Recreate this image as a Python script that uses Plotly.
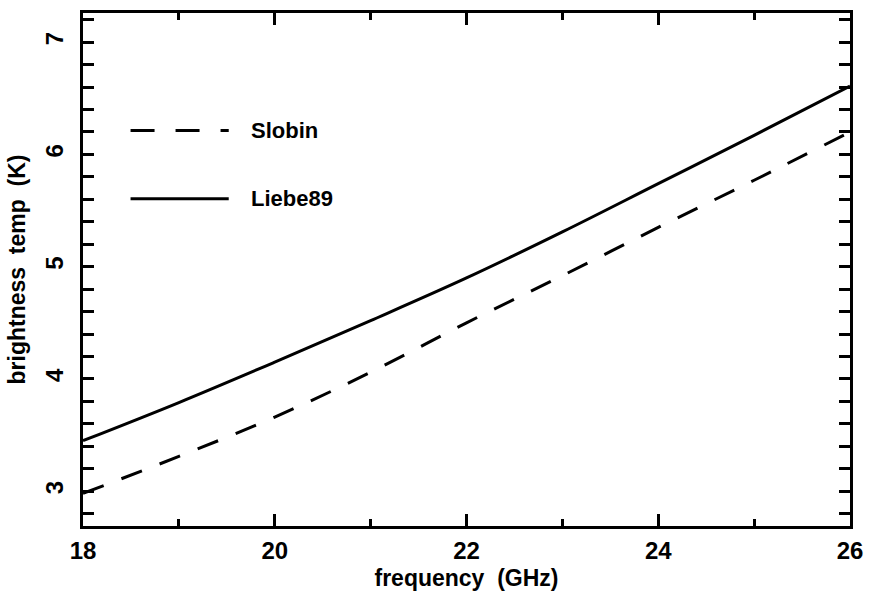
import plotly.graph_objects as go

# Sky brightness temperature vs. frequency for two absorption models
freq_ghz = [18, 19, 20, 21, 22, 23, 24, 25, 26]
slobin_k = [2.98, 3.31, 3.66, 4.06, 4.50, 4.92, 5.35, 5.77, 6.20]
liebe89_k = [3.45, 3.79, 4.15, 4.52, 4.90, 5.31, 5.74, 6.17, 6.61]

series_names = ["Slobin", "Liebe89"]
x_ticks = [18, 20, 22, 24, 26]
y_ticks = [3, 4, 5, 6, 7]

FONT = "Liberation Sans, Arial, sans-serif"
INK = "black"

fig = go.Figure()
fig.add_trace(go.Scatter(
    x=freq_ghz, y=slobin_k, mode="lines", name=series_names[0],
    line=dict(color=INK, width=3, dash="22px,19px"), line_shape="spline",
))
fig.add_trace(go.Scatter(
    x=freq_ghz, y=liebe89_k, mode="lines", name=series_names[1],
    line=dict(color=INK, width=3), line_shape="spline",
))

# Hand-placed key in the upper-left corner
key_rows = [(0.771, "24px,21px"), (0.638, "solid")]
for (ky, dash), label in zip(key_rows, series_names):
    fig.add_shape(type="line", xref="paper", yref="paper",
                  x0=0.062, x1=0.190, y0=ky, y1=ky,
                  line=dict(color=INK, width=3, dash=dash))
    fig.add_annotation(xref="paper", yref="paper", x=0.216, y=ky,
                       text="<b>%s</b>" % label, showarrow=False,
                       xanchor="left", yanchor="middle",
                       font=dict(family=FONT, size=22, color=INK))

axis_common = dict(
    showgrid=False, zeroline=False, showline=True, linecolor=INK, linewidth=3,
    mirror="allticks", ticks="inside", tickcolor=INK,
    tickfont=dict(family=FONT, size=24, color=INK),
)

fig.update_xaxes(
    range=[18, 26], tickvals=x_ticks, ticktext=["<b>%d</b>" % v for v in x_ticks],
    ticklen=12, tickwidth=3, ticklabelstandoff=1,
    minor=dict(dtick=1, ticks="inside", ticklen=7, tickwidth=3, tickcolor=INK),
    title=dict(text="<b>frequency  (GHz)</b>", font=dict(family=FONT, size=23, color=INK),
               standoff=8),
    **axis_common,
)
fig.update_yaxes(
    range=[2.69, 7.26], tickvals=y_ticks, ticktext=["<b>%d</b>" % v for v in y_ticks],
    tickangle=-90, ticklen=11, tickwidth=3, ticklabelstandoff=7,
    minor=dict(dtick=0.2, tick0=3, ticks="inside", ticklen=11, tickwidth=3, tickcolor=INK),
    title=dict(text="<b>brightness  temp  (K)</b>", font=dict(family=FONT, size=23, color=INK),
               standoff=10),
    **axis_common,
)

fig.update_layout(
    width=873, height=608,
    margin=dict(l=83, r=18, t=10, b=82),
    paper_bgcolor="white", plot_bgcolor="white",
    showlegend=False,
)

fig.write_html("out.html")
